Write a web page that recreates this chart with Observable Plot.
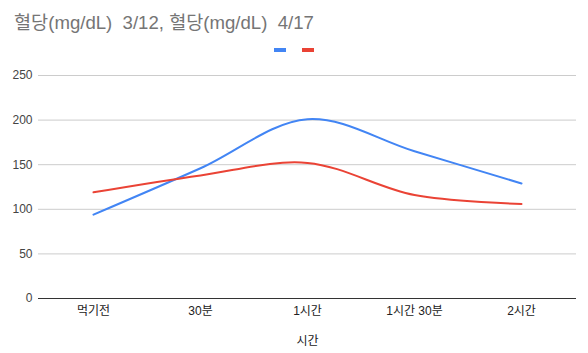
<!DOCTYPE html>
<html>
<head>
<meta charset="utf-8">
<script src="https://cdn.jsdelivr.net/npm/d3@7"></script>
<script src="https://cdn.jsdelivr.net/npm/@observablehq/plot@0.6"></script>
<style>
  body { margin: 0; background: #fff; font-family: "Liberation Sans", Arial, "Noto Sans CJK KR", sans-serif; }
  #wrap { position: relative; width: 588px; height: 353px; }
  #title { position: absolute; left: 14px; top: 7px; font-size: 18.6px; color: #757575; white-space: pre; }
  #legend { position: absolute; left: 0; width: 588px; top: 48px; height: 4px; }
  .sw { position: absolute; top: 0; width: 12px; height: 4px; }
  #chart { position: absolute; left: 0; top: 0; }
</style>
</head>
<body>
<div id="wrap">
  <div id="chart"></div>
  <div id="title"></div>
  <div id="legend"></div>
</div>
<script>
const titleText = "혈당(mg/dL)  3/12, 혈당(mg/dL)  4/17";
const categories = ["먹기전", "30분", "1시간", "1시간 30분", "2시간"];
const seriesNames = ["3/12", "4/17"];
const values0312 = [94, 146, 201, 165, 129];
const values0417 = [119, 138, 152, 116, 106];
const yTicks = [0, 50, 100, 150, 200, 250];
const colors = ["#4285F4", "#EA4335"];
const xLabel = "시간";

const data = [];
categories.forEach((c, i) => {
  data.push({cat: c, series: seriesNames[0], value: values0312[i]});
  data.push({cat: c, series: seriesNames[1], value: values0417[i]});
});

document.getElementById("title").textContent = titleText;
const legend = document.getElementById("legend");
[274, 302].forEach((x, i) => {
  const s = document.createElement("div");
  s.className = "sw";
  s.style.left = x + "px";
  s.style.background = colors[i];
  legend.appendChild(s);
});

const chart = Plot.plot({
  width: 588,
  height: 353,
  marginTop: 75,
  marginBottom: 55,
  marginLeft: 38,
  marginRight: 12,
  style: {fontFamily: '"Liberation Sans", Arial, "Noto Sans CJK KR", sans-serif', fontSize: "12px", background: "#fff"},
  x: {type: "point", domain: categories, padding: 0.5, label: null},
  y: {domain: [0, 250], ticks: yTicks, label: null},
  color: {domain: seriesNames, range: colors},
  marks: [
    Plot.ruleY(yTicks.filter(d => d > 0), {stroke: "#cccccc", strokeWidth: 1}),
    Plot.axisY({ticks: yTicks, tickSize: 0, tickPadding: 6, label: null, fill: "#444", fontSize: 12}),
    Plot.axisX({tickSize: 0, tickPadding: 8, label: null, fill: "#222", fontSize: 12}),
    Plot.line(data, {x: "cat", y: "value", z: "series", stroke: "series", strokeWidth: 2, curve: "catmull-rom"}),
    Plot.ruleY([0], {stroke: "#333", strokeWidth: 1}),
    Plot.text([xLabel], {frameAnchor: "bottom", dy: 46, fill: "#222", fontSize: 12})
  ]
});
document.getElementById("chart").appendChild(chart);
</script>
</body>
</html>
